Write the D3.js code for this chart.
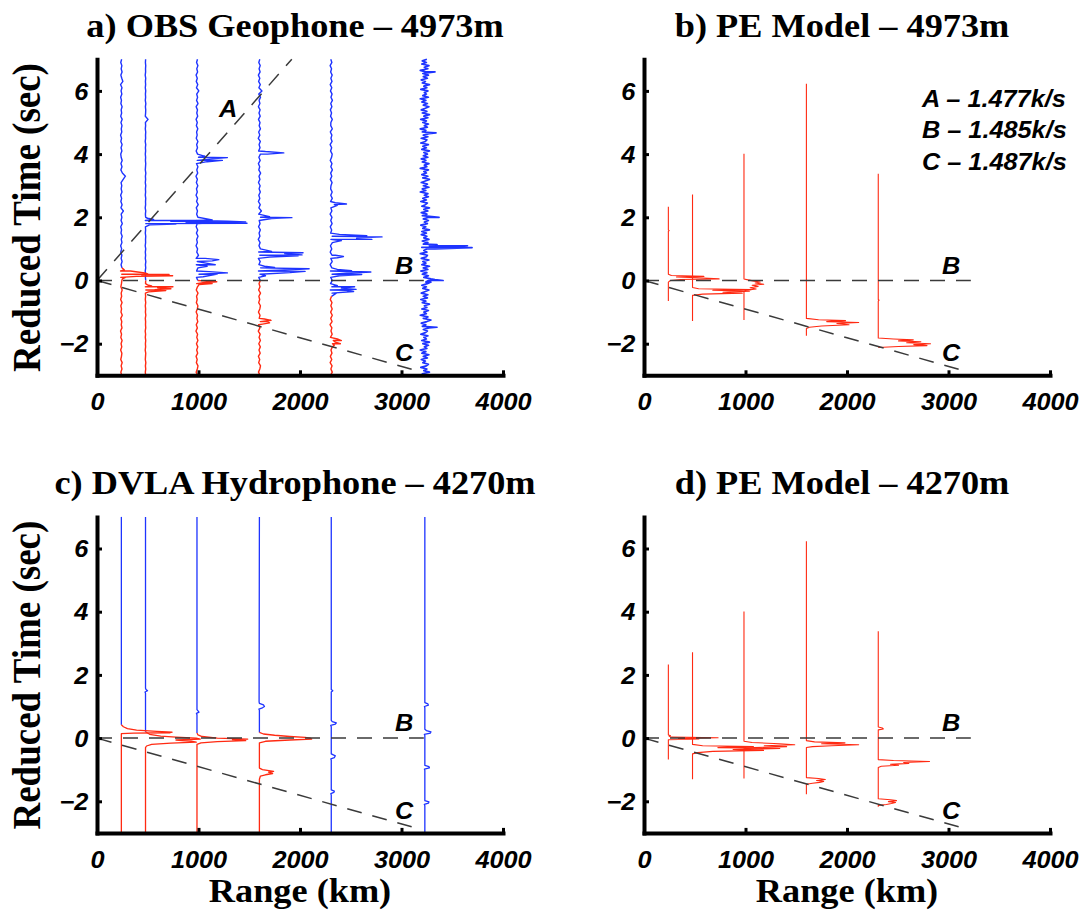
<!DOCTYPE html>
<html>
<head>
<meta charset="utf-8">
<script src="https://cdn.jsdelivr.net/npm/d3@7"></script>
<style>body{margin:0;background:#fff}</style>
</head>
<body>
<svg id="fig" width="1088" height="911"></svg>
<script>
// receiver ranges (km), same six stations in every panel
const traceRanges = [240, 478, 985, 1600, 2308, 3230];
const rangeTicks = [0, 1000, 2000, 3000, 4000];
const timeTicks = [-2, 0, 2, 4, 6];
const panelTitles = ['a) OBS Geophone \u2013 4973m', 'b) PE Model \u2013 4973m',
    'c) DVLA Hydrophone \u2013 4270m', 'd) PE Model \u2013 4270m'];

// reduction lines, speeds in k/s (B is the reducing speed)
const lineNames = ['A', 'B', 'C'];
const lineSpeeds = [1.477, 1.485, 1.487];
const lineEnds = [null, 3220, 3100];

// ---- a) OBS geophone: noise samples (km offset) + arrivals [t, km]
const obsStep = [0.1, 0.1, 0.1, 0.1, 0.1, 0.05];
const obsSplit = [0.4, 0.0, 0.0, 0.0, -0.5, -3.5];   // red below, blue above
const obsNoise = [
    [3,-5,6,-2,8,-6,1,5,-7,4, -3,7,-5,2,-8,6,-1,4,-6,9, -4,2,-5,7,-7,3,-2,8,-5,1,
     5,-6,4,-8,6,-3,7,-2,5,-6, 3,-7,6,-1,8,-4,2,-6,9,-3, 5,-2,20,-4,7,-5,3,-7,6,-2,
     4,-3,18,40,10,-5,6,-4,8,-2, -6,5,-3,7,-5,2,-8,4,-1,6, -4,8,-6,3,-2,7,-5,1,-7,5,
     -3,6,-8,15,4,-5,7,-2,5,-6, 3],
    [1,-2,2,-1,3,-2,0,2,-3,1, -1,2,-2,1,-3,2,0,1,-2,3, -1,1,-2,2,-2,1,-1,3,-2,0,
     2,-1,1,-3,2,-1,3,-2,1,-2, 2,-3,1,0,2,-2,1,-1,3,-2, 1,-1,2,-3,1,0,2,-2,1,-1,
     2,-2,1,-1,3,-2,0,2,-1,1, -2,1,-1,2,-3,1,0,2,-2,1, -1,25,-2,1,2,-1,3,-2,1,-1,
     2,-2,1,-1,2,-3,1,0,2,-1, 1],
    [5,-8,3,10,-6,2,-9,7,-3,8, -5,9,-2,6,-10,4,-7,8,-1,5, -8,3,9,-6,2,-4,10,-7,5,-3,
     8,-5,20,-4,9,-6,3,-8,15,-2, 6,-9,4,-3,10,-5,7,-8,2,-6, 9,-3,5,-7,12,-4,6,-9,3,-5,
     8,-6,4,-10,7,-2,9,-5,3,15, 6,-8,5,-3,9,-7,2,-4,8,-6, 3,-9,7,-2,5,-8,10,-4,6,-3,
     18,-5,8,-7,3,-9,6,-2,9,-4, 5],
    [6,-9,4,11,-7,3,-10,8,-4,9, -6,10,-3,7,-11,5,-8,9,-2,6, -9,4,10,-7,3,-5,11,-8,6,-4,
     9,-6,5,-9,12,-5,8,-10,4,-7, 10,-4,7,-11,5,-3,9,-8,6,-2, 11,-7,20,-5,8,-10,4,-6,9,-3,
     7,-9,5,-4,12,-6,3,-10,8,-5, 10,-8,6,-3,9,-11,4,-7,10,-2, 6,-9,8,-4,7,-10,5,-3,11,-6,
     25,-5,9,-8,4,-10,7,-3,8,-6, 4],
    [-7,10,-4,8,-11,5,-9,7,-3,11, 12,20,-8,9,-3,6,-12,8,-5,10, -6,9,-4,7,-10,3,8,-9,5,-7,
     10,-5,8,-8,6,-11,9,-4,7,-10, 5,-8,11,-3,9,-6,4,-10,8,-5, 7,-11,6,-4,30,-7,10,-5,9,-6,
     -3,8,-9,5,-6,11,-4,7,-10,3, 9,-7,4,-11,8,-3,6,-9,10,-5, -4,10,-7,3,-9,6,-5,11,-3,8,
     -8,5,-10,7,-4,9,-6,3,-11,6, -5],
    [30,-25,45,-10,20,-40,15,35,-20,5, -35,25,-15,40,-30,10,-45,20,-5,35,
     -20,45,-30,15,-10,30,-40,5,25,-15, 40,-25,10,-35,20,60,-15,30,-45,15,
     -10,35,-30,20,-5,45,-25,10,-40,25, -15,30,-35,5,40,-20,15,-30,25,10,
     35,60,-10,35,-25,20,-40,30,-15,45, -30,10,-20,40,-35,15,25,-45,20,-10,
     20,-30,45,-15,30,-25,40,-10,20,-35, 15,-30,45,-20,10,-40,25,-5,35,-15,
     40,-25,20,-35,30,-10,45,-30,5,25, -40,15,-20,35,-5,30,-45,10,-25,40,
     -15,25,-35,5,45,-20,30,-30,15,-10, 35,-45,20,-5,40,-25,10,-35,30,-15,
     25,-10,45,-30,15,-20,35,-40,5,20, -35,30,-15,40,-25,10,-45,25,-5,35,
     -20,15,-40,30,-10,45,-25,20,-35,5, 40,-15,25,-30,10,-45,35,-20,15,-5,
     30,-40,20,-10,45,-25,5,-35,25,-15, 35,-20,10,-45,30,-5,40,-30,15,-25,
     20]
];
const obsPeaks = [
    [[0.05,10],[0.1,40],[0.13,150],[0.15,505],[0.17,200],[0.19,470],[0.21,260],[0.24,230],[0.27,160],[0.3,90],[0.33,30]],
    [[-0.36,30],[-0.32,200],[-0.29,90],[-0.26,250],[-0.23,120],[-0.2,270],[-0.17,60],[-0.14,20],
     [1.76,40],[1.79,300],[1.81,1000],[1.83,400],[1.85,900],[1.87,250],[1.9,500],[1.93,80],[1.97,20]],
    [[-0.13,20],[-0.1,150],[-0.07,60],[-0.04,195],[-0.02,100],[0.12,60],[0.2,200],[0.24,300],[0.28,120],
     [0.45,100],[0.5,180],[0.55,90],[0.62,150],[0.66,215],[0.7,80],[1.82,100],[1.85,480],[1.88,300],[1.92,150],
     [3.76,100],[3.8,250],[3.84,120],[3.89,300],[3.93,80]],
    [[-1.38,30],[-1.34,100],[-1.3,80],[-1.26,115],[-1.22,50],[0.15,60],[0.25,300],[0.29,450],[0.33,250],
     [0.37,490],[0.41,150],[0.45,50],[0.74,100],[0.78,380],[0.81,420],[0.85,250],[0.88,430],[0.92,120],
     [1.96,120],[1.99,320],[2.02,100],[4.0,80],[4.04,240],[4.08,60]],
    [[-2.05,30],[-2.0,90],[-1.95,40],[-1.9,100],[-1.85,60],[-0.4,50],[-0.35,220],[-0.31,150],[-0.28,245],
     [-0.24,100],[-0.2,230],[-0.16,60],[0.15,80],[0.19,300],[0.23,150],[0.27,390],[0.31,200],[0.35,60],
     [0.72,60],[0.76,120],[0.8,40],[1.26,100],[1.3,400],[1.34,250],[1.38,500],[1.42,350],[1.46,80],
     [2.38,60],[2.42,150],[2.46,40]],
    [[-1.48,120],[-0.05,60],[0.0,180],[0.03,100],[1.0,100],[1.04,465],[1.07,300],[1.1,420],[1.14,120],
     [2.0,140],[4.67,110],[6.6,100]]
];

// ---- c) DVLA hydrophone traces [t, km]
const hydroSplit = [0.42, 0.2, 0.16, 0.18, -3.5, -3.5];
const hydroTraces = [
    [[-3,0],[0.14,0],[0.155,120],[0.17,480],[0.19,500],[0.21,350],[0.25,150],[0.3,60],[0.36,20],[0.42,0],[7,0]],
    [[-3,0],[-0.3,0],[-0.25,10],[-0.2,60],[-0.16,250],[-0.13,500],[-0.1,450],[-0.06,300],[-0.03,540],[0,500],
     [0.03,300],[0.06,150],[0.12,40],[0.2,0],[1.42,0],[1.46,-5],[1.5,20],[1.54,5],[1.58,0],[7,0]],
    [[-3,0],[-0.2,0],[-0.15,40],[-0.11,200],[-0.08,480],[-0.05,350],[-0.03,500],[0,200],[0.05,50],[0.1,10],
     [0.16,0],[0.74,0],[0.78,-5],[0.82,20],[0.86,10],[0.9,0],[7,0]],
    [[-3,0],[-1.3,0],[-1.2,10],[-1.16,60],[-1.12,130],[-1.08,90],[-1.05,140],[-1,30],[-0.95,0],[-0.15,0],
     [-0.1,60],[-0.06,300],[-0.03,515],[0,500],[0.02,450],[0.05,300],[0.09,150],[0.13,40],[0.18,0],
     [0.88,0],[0.92,-5],[0.96,30],[1,50],[1.05,40],[1.1,0],[1.15,-3],[7,0]],
    [[-3,0],[-1.8,0],[-1.76,-4],[-1.72,25],[-1.68,30],[-1.64,0],[-0.7,0],[-0.66,-4],[-0.62,30],[-0.56,40],
     [-0.5,0],[0.36,0],[0.4,-5],[0.44,40],[0.48,50],[0.52,10],[0.56,0],[1.46,0],[1.5,15],[1.54,0],[7,0]],
    [[-3,0],[-2.14,0],[-2.1,-5],[-2.06,35],[-2.02,40],[-1.98,0],[-1.02,0],[-0.98,-4],[-0.94,45],[-0.9,40],
     [-0.86,0],[0.08,0],[0.12,-5],[0.16,55],[0.2,60],[0.24,15],[0.28,0],[0.96,0],[1,-4],[1.04,35],[1.08,30],
     [1.12,0],[7,0]]
];

// ---- b) and d) PE model traces [t, km] (first five ranges)
const peTraces4973 = [
    [[-0.65,0],[-0.05,0],[0,20],[0.03,120],[0.05,500],[0.08,340],[0.11,80],[0.13,350],[0.16,30],[0.2,0],
     [1.56,0],[1.58,8],[1.6,0],[2.33,0]],
    [[-1.28,0],[-0.47,0],[-0.43,100],[-0.4,490],[-0.37,300],[-0.34,560],[-0.31,200],[-0.29,575],[-0.26,60],
     [-0.22,0],[2.72,0]],
    [[-1.25,0],[-0.35,0],[-0.31,20],[-0.27,120],[-0.23,60],[-0.19,140],[-0.15,80],[-0.12,195],[-0.08,110],
     [-0.05,160],[-0.02,100],[0.02,40],[0.05,0],[4.01,0]],
    [[-1.75,0],[-1.52,0],[-1.48,30],[-1.44,150],[-1.4,420],[-1.36,300],[-1.33,515],[-1.3,200],[-1.27,385],
     [-1.24,120],[-1.2,0],[6.23,0]],
    [[-2.12,0],[-2.09,200],[-2.06,480],[-2.03,350],[-2,515],[-1.97,280],[-1.94,420],[-1.91,200],[-1.88,345],
     [-1.85,150],[-1.82,0],[-0.65,0],[-0.62,8],[-0.6,0],[3.38,0]]
];
const peTraces4270 = [
    [[-0.68,0],[-0.05,0],[-0.03,300],[-0.01,100],[0.01,490],[0.03,30],[0.06,8],[0.08,20],[0.1,0],[2.33,0]],
    [[-1.3,0],[-0.5,0],[-0.46,50],[-0.42,200],[-0.39,700],[-0.36,400],[-0.33,860],[-0.3,250],[-0.27,600],
     [-0.24,100],[-0.2,0],[2.72,0]],
    [[-1.28,0],[-0.34,0],[-0.3,100],[-0.27,420],[-0.24,200],[-0.21,500],[-0.18,350],[-0.14,80],[-0.1,0],[4.01,0]],
    [[-1.78,0],[-1.46,0],[-1.43,60],[-1.4,130],[-1.37,170],[-1.34,100],[-1.31,187],[-1.28,120],[-1.25,0],
     [-0.3,0],[-0.27,60],[-0.24,250],[-0.21,515],[-0.18,150],[-0.15,380],[-0.12,80],[-0.08,0],[6.23,0]],
    [[-2.17,0],[-2.13,0],[-2.1,80],[-2.07,130],[-2.04,170],[-2.01,100],[-1.98,180],[-1.95,120],[-1.92,0],
     [-0.93,0],[-0.89,30],[-0.86,200],[-0.83,120],[-0.8,300],[-0.77,250],[-0.74,505],[-0.71,150],[-0.68,0],
     [0.26,0],[0.29,50],[0.32,40],[0.35,0],[3.38,0]]
];

const color_red = '#ff2a12';
const color_blue = '#1e34ff';
const font_sans = "'Liberation Sans', Arial, Helvetica, sans-serif";
const font_serif = "'Liberation Serif', 'Times New Roman', Times, serif";

const svg = d3.select('#fig');
svg.append('rect').attr('width', 1088).attr('height', 911).attr('fill', '#fff');

// where each plot box starts (left edge, top edge)
const panelSpots = [[97, 59.3], [644, 59.3], [97, 516.9], [644, 516.9]];
// label spots for A/B/C in data units [range, time]
const lineLabelSpots = [[1202, 5.18], [2936, 0.22], [2936, -2.55]];

function slope_of(v) {
    return 1 / v - 1 / lineSpeeds[1];
}

// red part runs up to the split time, blue part from it (both share the split sample)
function split_trace(pts, split) {
    pts = pts.slice().sort((a, b) => a[0] - b[0]);
    return {
        red: pts.filter(p => p[0] <= split + 1e-6),
        blue: pts.filter(p => p[0] >= split - 1e-6)
    };
}

function obs_points(i) {
    let pts = obsNoise[i].map((a, k) => [-3 + k * obsStep[i], a]);
    return pts.concat(obsPeaks[i]);
}

function bold_italic(sel, size) {
    return sel.attr('font-family', font_sans).attr('font-size', size)
        .attr('font-weight', 'bold').attr('font-style', 'italic').attr('fill', '#000');
}

function add_panel(idx) {
    let [px, py] = panelSpots[idx];
    let x = d3.scaleLinear().domain([0, 4000]).range([px, px + 406]);
    let y = d3.scaleLinear().domain([-3, 7]).range([py + 316, py]);
    let g = svg.append('g');

    // traces
    let traceG = g.append('g').attr('fill', 'none').attr('stroke-linejoin', 'round');
    function draw(pts, r, color, width) {
        if (pts.length < 2) return;
        let line = d3.line().x(d => x(r + d[1])).y(d => y(d[0]));
        traceG.append('path').attr('d', line(pts)).attr('stroke', color).attr('stroke-width', width);
    }

    if (idx === 0 || idx === 2) {
        let parts = traceRanges.map((r, i) => idx === 0
            ? split_trace(obs_points(i), obsSplit[i])
            : split_trace(hydroTraces[i], hydroSplit[i]));
        let w = i => idx === 0 ? (i === 5 ? 1.7 : 1.4) : 1.3;
        parts.forEach((p, i) => draw(p.blue, traceRanges[i], color_blue, w(i)));
        parts.forEach((p, i) => draw(p.red, traceRanges[i], color_red, w(i)));
    } else {
        let pe = idx === 1 ? peTraces4973 : peTraces4270;
        pe.forEach((pts, i) => draw(pts.slice().sort((a, b) => a[0] - b[0]), traceRanges[i], color_red, 1.1));
    }

    // dashed reduction lines
    lineNames.forEach(function (name, i) {
        if (name === 'A' && idx !== 0) return;
        let s = slope_of(lineSpeeds[i]);
        let rEnd = lineEnds[i] === null ? 7 / s : lineEnds[i];
        g.append('line')
            .attr('x1', x(0)).attr('y1', y(0))
            .attr('x2', x(rEnd)).attr('y2', y(s * rEnd))
            .attr('stroke', '#3a3a3a').attr('stroke-width', 1.5)
            .attr('stroke-dasharray', '15,11');
        let [lr, lt] = lineLabelSpots[i];
        bold_italic(g.append('text'), 23)
            .attr('transform', 'translate(' + x(lr) + ',' + y(lt) + ') scale(1.1,1)')
            .text(name);
    });

    // axes
    let xAxis = g.append('g').attr('transform', 'translate(0,' + y(-3) + ')')
        .call(d3.axisBottom(x).tickValues(rangeTicks).tickSize(-5).tickSizeOuter(0).tickFormat(d3.format('d')));
    let yAxis = g.append('g').attr('transform', 'translate(' + x(0) + ',0)')
        .call(d3.axisLeft(y).tickValues(timeTicks).tickSize(-5).tickSizeOuter(0));

    [xAxis, yAxis].forEach(function (ax) {
        ax.select('.domain').attr('stroke', '#000').attr('stroke-width', 4).attr('stroke-linecap', 'square');
        ax.selectAll('.tick line').attr('stroke', '#000').attr('stroke-width', 3);
    });
    bold_italic(xAxis.selectAll('.tick text'), 23)
        .attr('y', 34.7).attr('dy', null).attr('transform', 'scale(1.1,1)');
    bold_italic(yAxis.selectAll('.tick text'), 23)
        .attr('x', -8).attr('dy', '0.36em').attr('transform', 'scale(1.1,1)');

    // title
    g.append('text')
        .attr('transform', 'translate(' + (px + 198) + ',' + (py - 22.6) + ') scale(1.1,1)')
        .attr('text-anchor', 'middle')
        .attr('font-family', font_serif).attr('font-size', 33).attr('font-weight', 'bold')
        .text(panelTitles[idx]);

    if (idx === 0 || idx === 2) {
        g.append('text')
            .attr('transform', 'translate(39.5,' + (py + 158.2) + ') scale(1.1,1) rotate(-90)')
            .attr('text-anchor', 'middle')
            .attr('font-family', font_serif).attr('font-size', 37).attr('font-weight', 'bold')
            .text('Reduced Time (sec)');
    }
    if (idx >= 2) {
        g.append('text')
            .attr('transform', 'translate(' + (px + 203) + ',' + 902 + ') scale(1.1,1)')
            .attr('text-anchor', 'middle')
            .attr('font-family', font_serif).attr('font-size', 33).attr('font-weight', 'bold')
            .text('Range (km)');
    }
    if (idx === 1) {
        let baselines = [107, 137.6, 169.5];
        lineNames.forEach(function (name, i) {
            bold_italic(g.append('text'), 23)
                .attr('transform', 'translate(922,' + baselines[i] + ') scale(1.1,1)')
                .text(name + ' \u2013 ' + lineSpeeds[i].toFixed(3) + 'k/s');
        });
    }
}

[0, 1, 2, 3].forEach(add_panel);
</script>
</body>
</html>
